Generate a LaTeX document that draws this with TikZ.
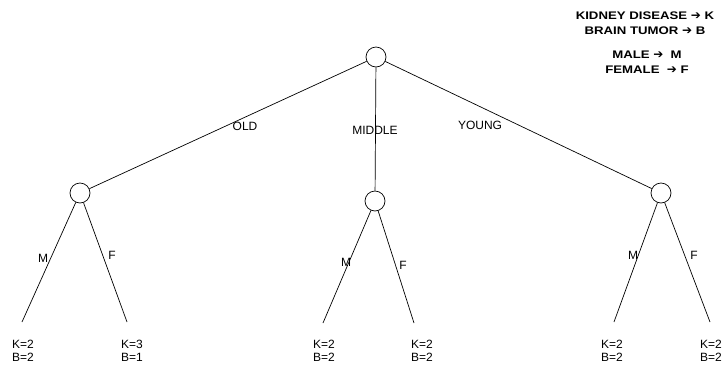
\documentclass[tikz,border=0pt]{standalone}
\usepackage{fontspec}
\setmainfont{Liberation Sans}
\newfontfamily\legendfont[FakeStretch=1.2]{Liberation Sans}
\newfontfamily\arrowfont{DejaVu Sans}
\begin{document}
\begin{tikzpicture}[x=1pt,y=-1pt,
  dnode/.style={draw,circle,minimum size=20pt,inner sep=0pt,line width=0.7pt},
  edge/.style={line width=0.7pt},
  elabel/.style={font=\fontsize{12}{13}\selectfont,inner sep=0pt},
  leaf/.style={font=\fontsize{12}{13}\selectfont,align=left,anchor=north west,inner sep=0pt},
  legend/.style={font=\legendfont\fontsize{11}{15}\selectfont\bfseries,align=center,inner sep=0pt}]
\useasboundingbox (0,0) rectangle (724,365);
% decision nodes
\node[dnode] (root) at (376,57) {};
\node[dnode] (old) at (80,193) {};
\node[dnode] (mid) at (375,201) {};
\node[dnode] (young) at (661,193) {};
% leaf end points
\coordinate (l1) at (22,322);
\coordinate (l2) at (127,322);
\coordinate (l3) at (323,323);
\coordinate (l4) at (414,323);
\coordinate (l5) at (614,322);
\coordinate (l6) at (710,322);
% edges
\draw[edge] (root) -- (old);
\draw[edge] (root) -- (mid);
\draw[edge] (root) -- (young);
\draw[edge] (old) -- (l1);
\draw[edge] (old) -- (l2);
\draw[edge] (mid) -- (l3);
\draw[edge] (mid) -- (l4);
\draw[edge] (young) -- (l5);
\draw[edge] (young) -- (l6);
% edge labels
\node[elabel] (tOld) at (245,126) {OLD};
\node[elabel] (tMid) at (375,130) {MIDDLE};
\node[elabel] (tYoung) at (480,125) {YOUNG};
\node[elabel] (m1) at (43,258) {M};
\node[elabel] (f1) at (112,255) {F};
\node[elabel] (m2) at (346,262) {M};
\node[elabel] (f2) at (403,265) {F};
\node[elabel] (m3) at (633,255) {M};
\node[elabel] (f3) at (694,255) {F};
% leaves
\node[leaf] (r1) at (12,340) {K=2\\B=2};
\node[leaf] (r2) at (121,340) {K=3\\B=1};
\node[leaf] (r3) at (313,340) {K=2\\B=2};
\node[leaf] (r4) at (411,340) {K=2\\B=2};
\node[leaf] (r5) at (601,340) {K=2\\B=2};
\node[leaf] (r6) at (700,340) {K=2\\B=2};
% legend
\node[legend] (leg1) at (645,23.5) {KIDNEY DISEASE {\arrowfont\bfseries\fontsize{12}{15}\selectfont ➔} K\\BRAIN TUMOR {\arrowfont\bfseries\fontsize{12}{15}\selectfont ➔} B};
\node[legend] (leg2) at (647,62) {MALE {\arrowfont\bfseries\fontsize{12}{15}\selectfont ➔}\ \ M\\FEMALE\ \ {\arrowfont\bfseries\fontsize{12}{15}\selectfont ➔} F};
\end{tikzpicture}
\end{document}
